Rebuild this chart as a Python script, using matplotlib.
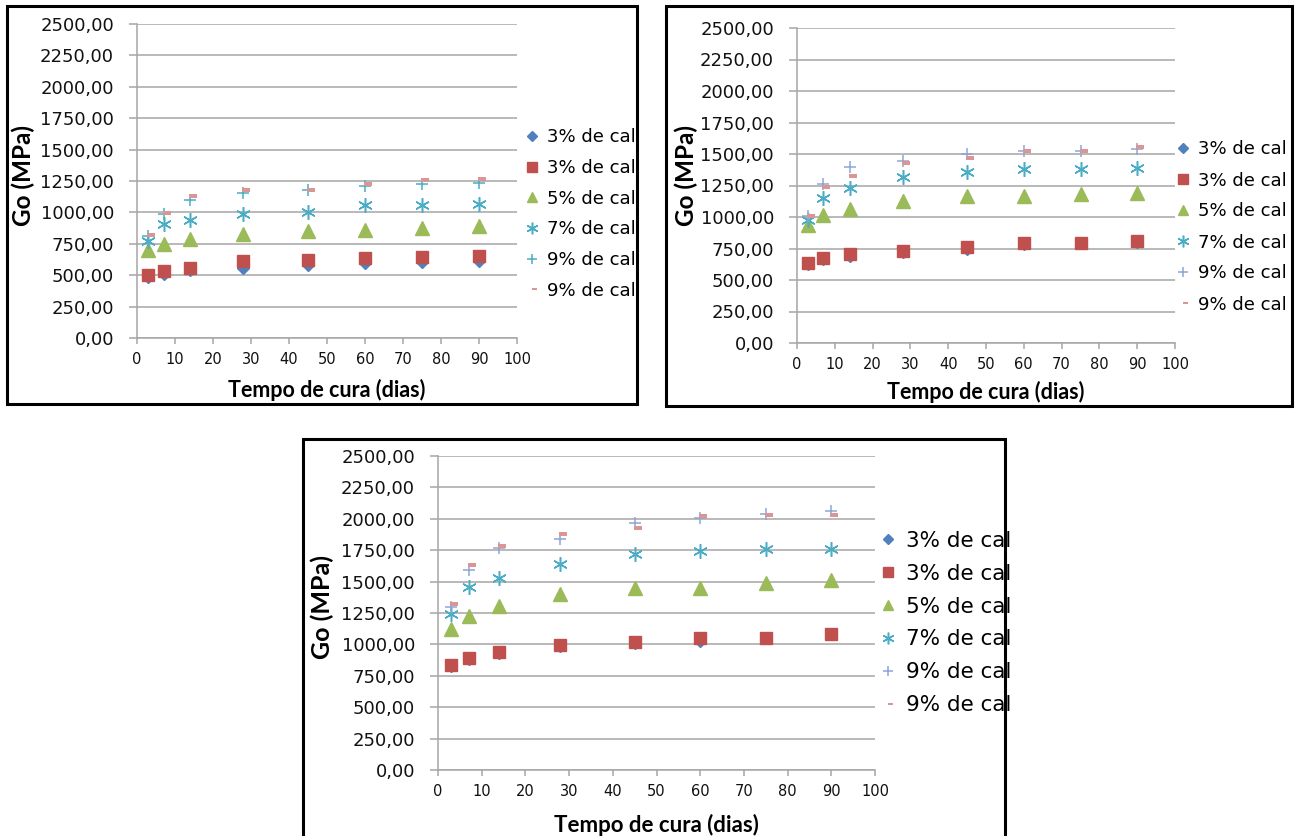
import matplotlib.pyplot as plt
from matplotlib.patches import Rectangle
from matplotlib.path import Path
from matplotlib.ticker import FuncFormatter, MultipleLocator

days = [3, 7, 14, 28, 45, 60, 75, 90]
labels = ["3% de cal", "3% de cal", "5% de cal", "7% de cal", "9% de cal", "9% de cal"]

# top left
d3a = [485, 512, 540, 560, 585, 598, 605, 612]
s3a = [505, 535, 557, 610, 620, 633, 647, 655]
t5a = [697, 748, 787, 832, 850, 860, 872, 890]
a7a = [774, 906, 938, 990, 1004, 1057, 1057, 1070]
p9a = [813, 990, 1097, 1157, 1179, 1210, 1229, 1237]
m9a = [821, 994, 1131, 1176, 1179, 1223, 1258, 1263]

# top right
d3b = [628, 665, 690, 720, 750, 785, 790, 800]
s3b = [637, 676, 703, 729, 760, 795, 795, 808]
t5b = [940, 1018, 1066, 1129, 1163, 1163, 1182, 1189]
a7b = [979, 1150, 1234, 1316, 1355, 1382, 1382, 1392]
p9b = [1010, 1260, 1395, 1447, 1500, 1526, 1526, 1539]
m9b = [1005, 1242, 1326, 1432, 1471, 1524, 1524, 1553]

# bottom
d3c = [832, 885, 935, 988, 1015, 1030, 1048, 1080]
s3c = [838, 891, 939, 992, 1019, 1051, 1051, 1085]
t5c = [1125, 1226, 1306, 1404, 1449, 1449, 1492, 1511]
a7c = [1245, 1457, 1529, 1644, 1718, 1745, 1763, 1763]
p9c = [1298, 1596, 1771, 1843, 1963, 2003, 2035, 2064]
m9c = [1319, 1630, 1782, 1878, 1923, 2021, 2029, 2029]

W, H = 1295, 836
fig = plt.figure(figsize=(W / 100, H / 100), dpi=100)

dash = Path([(-0.5, -1.5), (6.5, -1.5), (6.5, 1.5), (-0.5, 1.5), (-0.5, -1.5)],
            [Path.MOVETO, Path.LINETO, Path.LINETO, Path.LINETO, Path.CLOSEPOLY])

GRID = '#a6a6a6'


def px_axes(x0, y0, x1, y1):
    return fig.add_axes([x0 / W, 1 - y1 / H, (x1 - x0) / W, (y1 - y0) / H])


def frame(x0, y0, x1, y1):
    fig.patches.append(Rectangle((x0 / W, 1 - y1 / H), (x1 - x0) / W, (y1 - y0) / H,
                                 transform=fig.transFigure, fill=False,
                                 edgecolor='black', linewidth=2.2, zorder=10))


def panel(ax, series, plus_color, leg_x, leg_y, leg_size, leg_space, lab_size, ylab_xy, xlab_xy):
    d3, s3, t5, a7, p9, m9 = series
    ax.plot(days, d3, ls='none', marker='D', ms=6, color='#4f81bd', label=labels[0])
    ax.plot(days, s3, ls='none', marker='s', ms=9, color='#c0504d', label=labels[1])
    ax.plot(days, t5, ls='none', marker='^', ms=9.5, color='#9bbb59', label=labels[2])
    ax.plot(days, a7, ls='none', marker=(6, 2, 0), ms=10.5, mew=1.1, color='#4bacc6', label=labels[3])
    ax.plot(days, p9, ls='none', marker='+', ms=9, mew=1.1, color=plus_color, label=labels[4])
    ax.plot(days, m9, ls='none', marker=dash, ms=9.5, mew=0, color='#d99694', label=labels[5])

    ax.set_xlim(0, 100)
    ax.set_ylim(0, 2500)
    ax.xaxis.set_major_locator(MultipleLocator(10))
    ax.yaxis.set_major_locator(MultipleLocator(250))
    ax.yaxis.set_major_formatter(FuncFormatter(lambda v, p: f"{v:.2f}".replace('.', ',')))
    ax.grid(axis='y', color=GRID, lw=1.1)
    ax.set_axisbelow(True)
    for s in ['top', 'right']:
        ax.spines[s].set_visible(False)
    for s in ['left', 'bottom']:
        ax.spines[s].set_color(GRID)
        ax.spines[s].set_linewidth(1.1)
    ax.tick_params(axis='y', length=6, width=1.1, color=GRID, pad=10.5, labelsize=13,
                   labelcolor='#111111')
    ax.tick_params(axis='x', length=4, width=1.1, color=GRID, pad=6, labelsize=10.5,
                   labelcolor='#111111')

    ax.set_xlabel("Tempo de cura (dias)", fontsize=lab_size, fontweight='bold',
                  family=['Lato', 'DejaVu Sans'])
    ax.xaxis.set_label_coords(*xlab_xy)
    ax.xaxis.label.set_va('center')
    ax.set_ylabel("Go (MPa)", fontsize=lab_size + 2, fontweight='bold', family=['Lato', 'DejaVu Sans'])
    ax.yaxis.set_label_coords(*ylab_xy)
    ax.yaxis.label.set_va('center')

    ax.legend(loc='center left', bbox_to_anchor=(leg_x / W, 1 - leg_y / H),
              bbox_transform=fig.transFigure, frameon=False, fontsize=leg_size,
              borderpad=0, borderaxespad=0, handlelength=1.0, handletextpad=0.35,
              labelspacing=leg_space, markerscale=0.8)


ax1 = px_axes(137, 24, 517, 338)
panel(ax1, (d3a, s3a, t5a, a7a, p9a, m9a), '#4bacc6', 523, 214, 13, 0.7, 15.5,
      (-0.30, 0.516), (0.5, -0.166))
frame(7, 6, 637, 404)

ax2 = px_axes(797, 28, 1175, 343)
panel(ax2, (d3b, s3b, t5b, a7b, p9b, m9b), '#8ea5d6', 1174, 227, 13, 0.72, 15.5,
      (-0.294, 0.533), (0.5, -0.155))
frame(666, 6, 1292, 406)

ax3 = px_axes(438, 456, 875, 770)
panel(ax3, (d3c, s3c, t5c, a7c, p9c, m9c), '#8ea5d6', 877, 623, 15.5, 0.6, 16,
      (-0.265, 0.519), (0.5, -0.175))
frame(303, 439, 1005, 845)

fig.savefig('out.png', dpi=100)
